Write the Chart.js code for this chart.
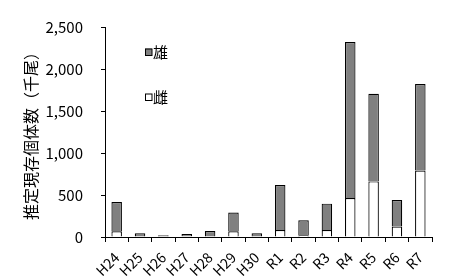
<!DOCTYPE html>
<html lang="ja">
<head>
<meta charset="UTF-8"/>
<title>推定現存個体数</title>
<style>
  html, body { margin: 0; padding: 0; background: #fff; }
</style>
</head>
<body>
<canvas id="c" width="459" height="280"></canvas>
<script src="https://cdn.jsdelivr.net/npm/chart.js@4.4.1/dist/chart.umd.min.js"></script>
<script>
  // 年度
  const years = ['H24','H25','H26','H27','H28','H29','H30','R1','R2','R3','R4','R5','R6','R7'];
  // 雌（千尾）
  const female = [67, 0, 0, 8, 0, 68, 0, 82, 20, 82, 464, 662, 125, 791];
  // 雄（千尾）
  const male = [350, 45, 22, 27, 70, 224, 45, 537, 179, 315, 1857, 1044, 315, 1031];

  const FONT = '"Noto Sans CJK JP", "Noto Sans", sans-serif';

  // 凡例（プロット内に縦に並べる）
  const innerLegend = {
    id: 'innerLegend',
    afterDatasetsDraw(chart) {
      const ctx = chart.ctx, a = chart.chartArea;
      const items = [chart.data.datasets[1], chart.data.datasets[0]];
      ctx.save();
      ctx.font = '15px ' + FONT;
      ctx.textBaseline = 'middle';
      items.forEach((ds, i) => {
        const x = a.left + 40, y = a.top + 25 + i * 45;
        ctx.fillStyle = ds.backgroundColor;
        ctx.fillRect(x, y - 3.5, 7, 7);
        ctx.strokeStyle = '#000';
        ctx.lineWidth = 1;
        ctx.strokeRect(x + 0.5, y - 3, 6.5, 6.5);
        ctx.fillStyle = '#000';
        ctx.fillText(ds.label, x + 8, y);
      });
      ctx.restore();
    }
  };

  new Chart(document.getElementById('c'), {
    type: 'bar',
    data: {
      labels: years,
      datasets: [
        { label: '雌', data: female, backgroundColor: '#ffffff', borderColor: '#000', borderWidth: 1.2 },
        { label: '雄', data: male, backgroundColor: '#808080', borderColor: '#000', borderWidth: 1.2 }
      ]
    },
    options: {
      responsive: false,
      animation: false,
      layout: { padding: { top: 19, right: 27, left: 0, bottom: 0 } },
      barPercentage: 0.45,
      categoryPercentage: 1,
      plugins: { legend: { display: false }, tooltip: { enabled: false } },
      scales: {
        x: {
          stacked: true,
          afterFit: s => { s.height = 43; },
          border: { color: '#000' },
          grid: { drawOnChartArea: false, tickLength: 5, color: '#000' },
          ticks: { color: '#000', font: { family: FONT, size: 14 }, autoSkip: false,
                   maxRotation: 45, minRotation: 45, padding: 7 }
        },
        y: {
          stacked: true,
          min: 0, max: 2500,
          afterFit: s => { s.width = 105; },
          border: { color: '#000' },
          grid: { drawOnChartArea: false, tickLength: 4, color: '#000' },
          ticks: { stepSize: 500, color: '#000', font: { family: FONT, size: 15 }, padding: 18 },
          title: { display: true, text: '推定現存個体数（千尾）', color: '#000',
                   font: { family: FONT, size: 16 }, padding: { top: 21, bottom: 0 } }
        }
      }
    },
    plugins: [innerLegend]
  });
</script>
</body>
</html>
